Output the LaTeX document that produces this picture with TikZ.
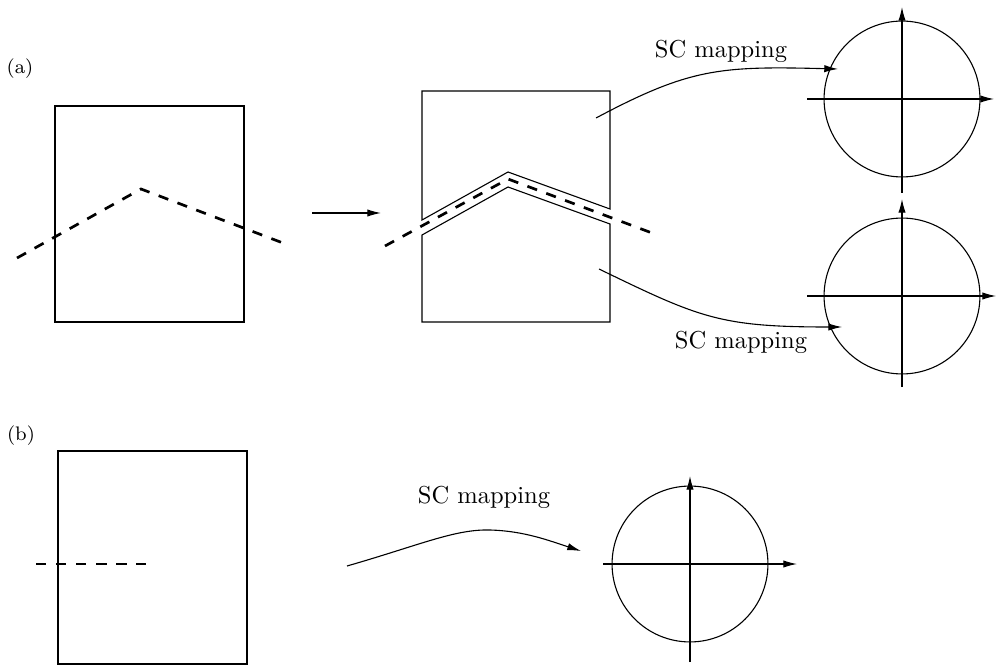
\documentclass[tikz,border=0pt]{standalone}
\usetikzlibrary{arrows.meta}
\begin{document}
\begin{tikzpicture}[x=0.408pt,y=-0.408pt,
  thinline/.style={line width=0.45pt},
  cutline/.style={line width=1.1pt, dash pattern=on 4.2pt off 4pt},
  arr/.style={thinline,-{Latex[length=5.6pt,width=3pt]}},
  lbl/.style={inner sep=0pt, font=\footnotesize},
  maplbl/.style={inner sep=0pt, font=\normalsize}]
\useasboundingbox (0,0) rectangle (997,667);

% ---------- (a) ----------
\node[lbl] (la) at (20,69) {(a)};
\draw[thinline] (55,106) rectangle (244,322);
\draw[cutline] (17,258) -- (141,189) -- (283,243);

\coordinate (h1) at (312,213);
\coordinate (h2) at (381,213);
\draw[arr] (h1) -- (h2);

% split domain
\draw[thinline] (422,91) -- (422,220) -- (508,172) -- (610,209) -- (610,91) -- cycle;
\draw[thinline] (422,235) -- (508,187) -- (610,224) -- (610,322) -- (422,322) -- cycle;
\draw[cutline] (385,246) -- (508,179) -- (652,233);

% upper map
\coordinate (u1) at (596,118);
\coordinate (u2) at (838,69);
\draw[arr] (u1) .. controls (690,68) and (720,66) .. (u2);
\node[maplbl] (m1) at (721,51) {SC mapping};

% lower map
\coordinate (d1) at (599,269);
\coordinate (d2) at (842,327);
\draw[arr] (d1) .. controls (700,318) and (720,327) .. (d2);
\node[maplbl] (m2) at (741,342) {SC mapping};

% upper disk
\draw[thinline] (902,99) circle[radius=31.8pt];
\coordinate (ax1) at (807,99);
\coordinate (ax1e) at (994,99);
\coordinate (ay1) at (902,193);
\coordinate (ay1e) at (902,7);
\draw[arr] (ax1) -- (ax1e);
\draw[arr] (ay1) -- (ay1e);

% lower disk
\draw[thinline] (902,296) circle[radius=31.8pt];
\coordinate (ax2) at (807,296);
\coordinate (ax2e) at (996,296);
\coordinate (ay2) at (902,387);
\coordinate (ay2e) at (902,199);
\draw[arr] (ax2) -- (ax2e);
\draw[arr] (ay2) -- (ay2e);

% ---------- (b) ----------
\node[lbl] (lb) at (21,436) {(b)};
\draw[thinline] (58,451) rectangle (247,664);
\draw[cutline] (36,564) -- (146,564);

\coordinate (b1) at (347,566);
\coordinate (bm) at (490,530);
\coordinate (b2) at (581,551);
\draw[arr] (b1) .. controls (420,545) and (455,529) .. (bm)
              .. controls (525,531) and (550,541) .. (b2);
\node[maplbl] (m3) at (484,497) {SC mapping};

\draw[thinline] (690,564) circle[radius=31.8pt];
\coordinate (ax3) at (603,564);
\coordinate (ax3e) at (797,564);
\coordinate (ay3) at (690,662);
\coordinate (ay3e) at (690,476);
\draw[arr] (ax3) -- (ax3e);
\draw[arr] (ay3) -- (ay3e);
\end{tikzpicture}
\end{document}
